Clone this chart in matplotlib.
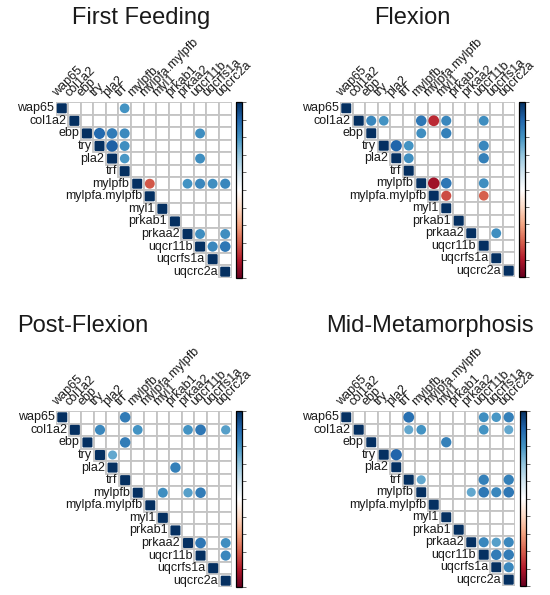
import numpy as np
from matplotlib import pyplot
from matplotlib import patches
from matplotlib import colors
from matplotlib import cm

pyplot.rcParams['font.family'] = ['Liberation Sans', 'DejaVu Sans']

genes = ['wap65', 'col1a2', 'ebp', 'try', 'pla2', 'trf', 'mylpfb', 'mylpfa.mylpfb',
         'myl1', 'prkab1', 'prkaa2', 'uqcr11b', 'uqcrfs1a', 'uqcrc2a']

# significant off-diagonal correlations (gene_a, gene_b, r)
first_feeding = [
    ('wap65', 'trf', 0.60), ('ebp', 'try', 0.78), ('ebp', 'pla2', 0.70),
    ('ebp', 'trf', 0.64), ('ebp', 'uqcr11b', 0.62), ('try', 'pla2', 0.82),
    ('try', 'trf', 0.62), ('pla2', 'trf', 0.58), ('pla2', 'uqcr11b', 0.62),
    ('mylpfb', 'mylpfa.mylpfb', -0.62), ('mylpfb', 'prkaa2', 0.60),
    ('mylpfb', 'uqcr11b', 0.65), ('mylpfb', 'uqcrfs1a', 0.62), ('mylpfb', 'uqcrc2a', 0.65),
    ('prkaa2', 'uqcr11b', 0.62), ('prkaa2', 'uqcrc2a', 0.62),
    ('uqcr11b', 'uqcrfs1a', 0.65), ('uqcr11b', 'uqcrc2a', 0.72),
]

flexion = [
    ('col1a2', 'ebp', 0.65), ('col1a2', 'try', 0.60), ('col1a2', 'mylpfb', 0.72),
    ('col1a2', 'mylpfa.mylpfb', -0.75), ('col1a2', 'myl1', 0.65), ('col1a2', 'uqcr11b', 0.62),
    ('ebp', 'mylpfb', 0.62), ('ebp', 'myl1', 0.68), ('try', 'pla2', 0.80),
    ('try', 'trf', 0.60), ('try', 'uqcr11b', 0.65), ('pla2', 'trf', 0.62),
    ('pla2', 'uqcr11b', 0.68), ('mylpfb', 'mylpfa.mylpfb', -0.85), ('mylpfb', 'myl1', 0.72),
    ('mylpfb', 'uqcr11b', 0.62), ('mylpfa.mylpfb', 'myl1', -0.65),
    ('mylpfa.mylpfb', 'uqcr11b', -0.60), ('prkaa2', 'uqcrfs1a', 0.62),
]

post_flexion = [
    ('wap65', 'trf', 0.70), ('col1a2', 'try', 0.65), ('col1a2', 'mylpfb', 0.60),
    ('col1a2', 'prkaa2', 0.60), ('col1a2', 'uqcr11b', 0.72), ('col1a2', 'uqcrc2a', 0.55),
    ('ebp', 'trf', 0.70), ('try', 'pla2', 0.52), ('pla2', 'prkab1', 0.68),
    ('mylpfb', 'myl1', 0.62), ('mylpfb', 'prkaa2', 0.55), ('mylpfb', 'uqcr11b', 0.70),
    ('prkaa2', 'uqcr11b', 0.72), ('prkaa2', 'uqcrc2a', 0.62), ('uqcr11b', 'uqcrc2a', 0.65),
]

mid_metamorphosis = [
    ('wap65', 'trf', 0.75), ('wap65', 'uqcr11b', 0.62), ('wap65', 'uqcrfs1a', 0.58),
    ('wap65', 'uqcrc2a', 0.68), ('col1a2', 'trf', 0.52), ('col1a2', 'mylpfb', 0.60),
    ('col1a2', 'uqcr11b', 0.60), ('col1a2', 'uqcrc2a', 0.52), ('ebp', 'myl1', 0.68),
    ('try', 'pla2', 0.80), ('trf', 'mylpfb', 0.52), ('trf', 'uqcr11b', 0.68),
    ('trf', 'uqcrc2a', 0.68), ('mylpfb', 'prkaa2', 0.52), ('mylpfb', 'uqcr11b', 0.72),
    ('mylpfb', 'uqcrfs1a', 0.65), ('mylpfb', 'uqcrc2a', 0.72), ('prkaa2', 'uqcr11b', 0.65),
    ('prkaa2', 'uqcrfs1a', 0.55), ('prkaa2', 'uqcrc2a', 0.65), ('uqcr11b', 'uqcrfs1a', 0.70),
    ('uqcr11b', 'uqcrc2a', 0.70), ('uqcrfs1a', 'uqcrc2a', 0.65),
]

stage_names = ['First Feeding', 'Flexion', 'Post-Flexion', 'Mid-Metamorphosis']
stage_data = [first_feeding, flexion, post_flexion, mid_metamorphosis]

# corrplot RdBu palette
cmap = colors.LinearSegmentedColormap.from_list('corrRdBu', [
    '#67001F', '#B2182B', '#D6604D', '#F4A582', '#FDDBC7', '#FFFFFF',
    '#D1E5F0', '#92C5DE', '#4393C3', '#2166AC', '#053061'])
norm = colors.Normalize(-1, 1)

W, H = 550, 595
fig = pyplot.figure(figsize=(5.5, 5.95), dpi=100)

# pixel boxes: grid (x0, y0, x1, y1), colorbar (x0, x1), title (x, y)
grid_boxes = [(55.5, 102, 231.5, 278), (340, 102, 515, 277), (56, 411, 232, 587), (340, 411, 515, 586)]
cbar_boxes = [(236, 242), (519, 525), (236, 242), (520, 526)]
title_pos = [(141, 18), (412, 18), (83, 326), (430, 326)]


def px_axes(x0, y0, x1, y1):
    return fig.add_axes([x0 / W, 1 - y1 / H, (x1 - x0) / W, (y1 - y0) / H])


n = len(genes)
for k, (name, pairs) in enumerate(zip(stage_names, stage_data)):
    gx0, gy0, gx1, gy1 = grid_boxes[k]
    ax = px_axes(gx0, gy0, gx1, gy1)
    ax.set_xlim(-0.5, n - 0.5)
    ax.set_ylim(n - 0.5, -0.5)
    ax.axis('off')

    mat = np.full((n, n), np.nan)
    for i in range(n):
        mat[i, i] = 1.0
    for a, b, r in pairs:
        i, j = genes.index(a), genes.index(b)
        mat[min(i, j), max(i, j)] = r

    for i in range(n):
        for j in range(i, n):
            ax.add_patch(patches.Rectangle((j - 0.5, i - 0.5), 1, 1, facecolor='white',
                                           edgecolor='#C4C4C4', linewidth=1.3, zorder=1))
            r = mat[i, j]
            if np.isnan(r):
                continue
            if i == j:
                ax.add_patch(patches.FancyBboxPatch((j - 0.31, i - 0.31), 0.62, 0.62,
                                                    boxstyle='round,pad=0.09',
                                                    facecolor=cmap(norm(r)), edgecolor='none', zorder=2))
            else:
                ax.add_patch(patches.Circle((j, i), np.sqrt(abs(r)) / 2,
                                            facecolor=cmap(norm(r)), edgecolor='none', zorder=2))

    for i, g in enumerate(genes):
        ax.text(i - 0.62, i, g, ha='right', va='center', fontsize=9, color='#1A1A1A')
        ax.text(i - 0.25, -0.72, g, ha='left', va='bottom', rotation=45,
                rotation_mode='anchor', fontsize=9, color='#1A1A1A')

    cx0, cx1 = cbar_boxes[k]
    cax = px_axes(cx0, gy0, cx1, gy1)
    cb = fig.colorbar(cm.ScalarMappable(norm=norm, cmap=cmap), cax=cax,
                      ticks=np.linspace(-1, 1, 11))
    cb.outline.set_linewidth(0.9)
    cax.tick_params(axis='y', length=3, width=0.6, color='#555555', labelright=False)

    tx, ty = title_pos[k]
    fig.text(tx / W, 1 - ty / H, name, ha='center', va='center', fontsize=17, color='#1A1A1A')

pyplot.savefig('out.png', dpi=100)
